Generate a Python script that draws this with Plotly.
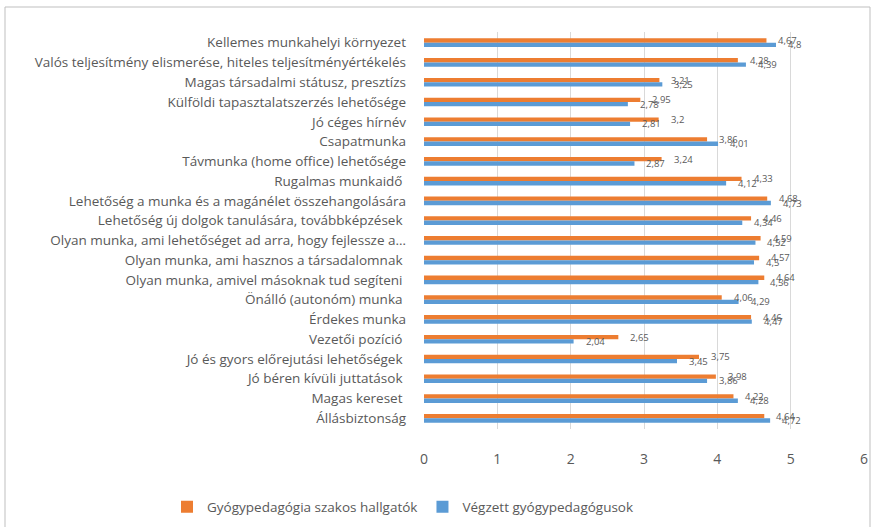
import plotly.graph_objects as go

categories = [
    "Kellemes munkahelyi környezet",
    "Valós teljesítmény elismerése, hiteles teljesítményértékelés",
    "Magas társadalmi státusz, presztízs",
    "Külföldi tapasztalatszerzés lehetősége",
    "Jó céges hírnév",
    "Csapatmunka",
    "Távmunka (home office) lehetősége",
    "Rugalmas munkaidő\u00a0",
    "Lehetőség a munka és a magánélet összehangolására",
    "Lehetőség új dolgok tanulására, továbbképzések\u00a0",
    "Olyan munka, ami lehetőséget ad arra, hogy fejlessze a…",
    "Olyan munka, ami hasznos a társadalomnak\u00a0",
    "Olyan munka, amivel másoknak tud segíteni\u00a0",
    "Önálló (autonóm) munka\u00a0",
    "Érdekes munka",
    "Vezetői pozíció\u00a0",
    "Jó és gyors előrejutási lehetőségek\u00a0",
    "Jó béren kívüli juttatások\u00a0",
    "Magas kereset\u00a0",
    "Állásbiztonság",
]
students = [4.67, 4.28, 3.21, 2.95, 3.2, 3.86, 3.24, 4.33, 4.68, 4.46,
            4.59, 4.57, 4.64, 4.06, 4.46, 2.65, 3.75, 3.98, 4.22, 4.64]
graduates = [4.8, 4.39, 3.25, 2.78, 2.81, 4.01, 2.87, 4.12, 4.73, 4.34,
             4.52, 4.5, 4.56, 4.29, 4.47, 2.04, 3.45, 3.86, 4.28, 4.72]
series_names = ["Gyógypedagógia szakos hallgatók", "Végzett gyógypedagógusok"]
colors = ["#ED7D31", "#5B9BD5"]
x_ticks = [0, 1, 2, 3, 4, 5, 6]

FONT = "Open Sans"
TXT = "#595959"

def fmt(v):
    return ("%g" % v).replace(".", ",")

W, H = 876, 527
ml, mr, mt, mb = 424, 12, 32, 98
pw, ph = W - ml - mr, H - mt - mb

fig = go.Figure()
for name, vals, col in zip(series_names, [students, graduates], colors):
    fig.add_trace(go.Bar(
        y=categories, x=vals, name=name, orientation="h",
        marker=dict(color=col, line=dict(width=0)),
        hoverinfo="x+y",
    ))

annotations = []
for vals, ys in zip([students, graduates], [2.2, -2.2]):
    for c, v in zip(categories, vals):
        annotations.append(dict(
            x=v, y=c, xref="x", yref="y", text=fmt(v), showarrow=False,
            xanchor="left", yanchor="middle", xshift=10, yshift=ys,
            font=dict(size=9.5, color=TXT, family=FONT),
        ))

def px_to_paper_x(px):
    return (px - ml) / pw

def px_to_paper_y(py):
    return (H - mb - py) / ph

fig.update_layout(
    width=W, height=H,
    margin=dict(l=ml, r=mr, t=mt, b=mb, autoexpand=False),
    paper_bgcolor="white", plot_bgcolor="white",
    font=dict(family=FONT, color=TXT),
    barmode="group", bargap=0.56, bargroupgap=0,
    annotations=annotations,
    showlegend=True,
    legend=dict(
        orientation="h", xref="paper", x=px_to_paper_x(167), xanchor="left",
        yref="paper", y=px_to_paper_y(507), yanchor="middle",
        font=dict(size=13.5, color=TXT, family=FONT),
        itemwidth=30, traceorder="normal",
    ),
    shapes=[dict(
        type="rect", xref="paper", yref="paper",
        x0=px_to_paper_x(5), x1=px_to_paper_x(870),
        y0=px_to_paper_y(535), y1=px_to_paper_y(7),
        line=dict(color="#BFBFBF", width=1), fillcolor="rgba(0,0,0,0)", layer="below",
    )],
)
fig.update_xaxes(
    range=[0, 6], tickvals=x_ticks, showgrid=True, gridcolor="#D9D9D9", gridwidth=1,
    zeroline=False, showline=False, ticks="", automargin=False,
    tickfont=dict(size=14, color=TXT, family=FONT),
    ticklabelstandoff=20,
)
fig.update_yaxes(
    autorange="reversed", showgrid=False, showline=False, ticks="", automargin=False,
    tickfont=dict(size=13.5, color=TXT, family=FONT),
    ticklabelstandoff=17,
)
fig.write_html(
    "out.html",
    config={"displayModeBar": False},
    post_script="document.body.style.margin='0';document.body.style.padding='0';",
)
